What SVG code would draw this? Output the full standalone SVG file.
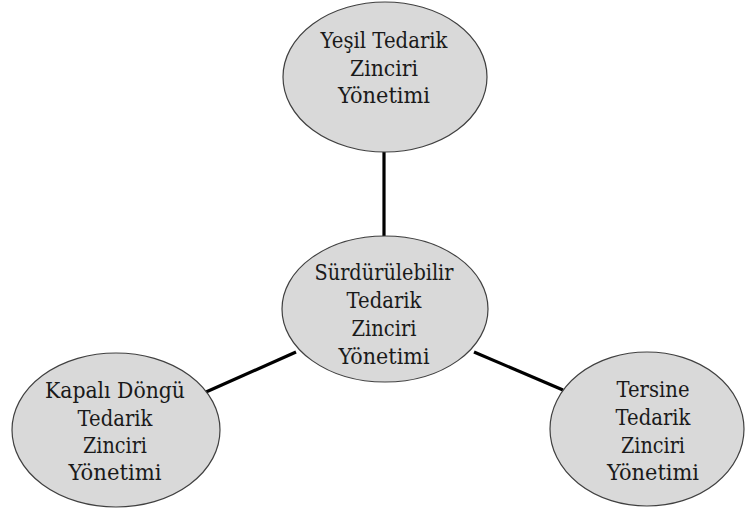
<svg xmlns="http://www.w3.org/2000/svg" width="747" height="511" viewBox="0 0 747 511">
  <style>
    .bubble { fill: #d9d9d9; stroke: #404040; stroke-width: 1.2; }
    .link { stroke: #000; stroke-width: 3.2; fill: none; }
    .label { font-family: 'DejaVu Serif', serif; font-size: 22px; fill: #1a1a1a; text-anchor: middle; }
  </style>
  <rect width="747" height="511" fill="#fff"/>
  <g id="connectors">
    <line class="link" x1="384" y1="152" x2="384" y2="236"/>
    <line class="link" x1="206" y1="392" x2="296" y2="352"/>
    <line class="link" x1="474" y1="352" x2="563" y2="390"/>
  </g>
  <g id="node-yesil">
    <ellipse class="bubble" cx="385" cy="77" rx="102" ry="75"/>
    <text class="label" x="384" y="48" textLength="127" lengthAdjust="spacingAndGlyphs">Yeşil Tedarik</text>
    <text class="label" x="384" y="76" textLength="68" lengthAdjust="spacingAndGlyphs">Zinciri</text>
    <text class="label" x="384" y="103" textLength="92" lengthAdjust="spacingAndGlyphs">Yönetimi</text>
  </g>
  <g id="node-surdurulebilir">
    <ellipse class="bubble" cx="385" cy="309" rx="103" ry="73"/>
    <text class="label" x="384" y="280" textLength="139" lengthAdjust="spacingAndGlyphs">Sürdürülebilir</text>
    <text class="label" x="384" y="308" textLength="75" lengthAdjust="spacingAndGlyphs">Tedarik</text>
    <text class="label" x="384" y="336" textLength="65" lengthAdjust="spacingAndGlyphs">Zinciri</text>
    <text class="label" x="384" y="364" textLength="91" lengthAdjust="spacingAndGlyphs">Yönetimi</text>
  </g>
  <g id="node-kapali">
    <ellipse class="bubble" cx="116" cy="430" rx="104" ry="77"/>
    <text class="label" x="115" y="398" textLength="140" lengthAdjust="spacingAndGlyphs">Kapalı Döngü</text>
    <text class="label" x="115" y="426" textLength="75" lengthAdjust="spacingAndGlyphs">Tedarik</text>
    <text class="label" x="115" y="453" textLength="64" lengthAdjust="spacingAndGlyphs">Zinciri</text>
    <text class="label" x="115" y="480" textLength="93" lengthAdjust="spacingAndGlyphs">Yönetimi</text>
  </g>
  <g id="node-tersine">
    <ellipse class="bubble" cx="647" cy="429" rx="97" ry="77"/>
    <text class="label" x="653" y="397" textLength="73" lengthAdjust="spacingAndGlyphs">Tersine</text>
    <text class="label" x="653" y="425" textLength="75" lengthAdjust="spacingAndGlyphs">Tedarik</text>
    <text class="label" x="653" y="453" textLength="64" lengthAdjust="spacingAndGlyphs">Zinciri</text>
    <text class="label" x="653" y="480" textLength="92" lengthAdjust="spacingAndGlyphs">Yönetimi</text>
  </g>
</svg>
